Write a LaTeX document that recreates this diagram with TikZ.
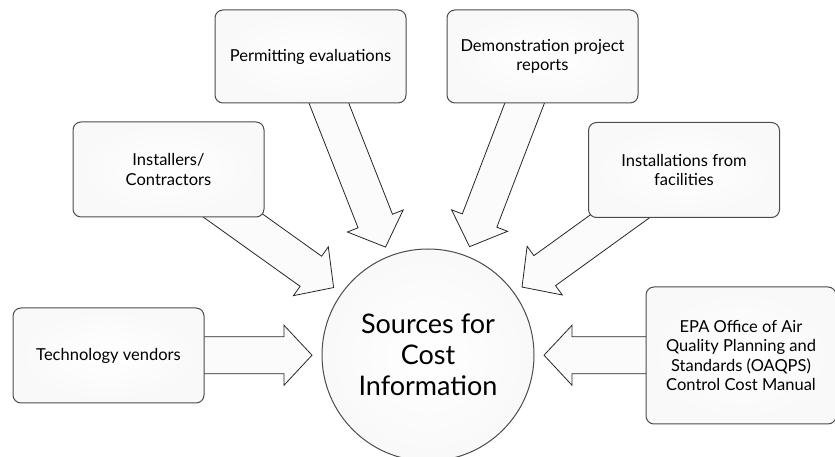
\documentclass[tikz,border=0pt]{standalone}
\usepackage{fontspec}
\setmainfont{Lato}
\usetikzlibrary{calc,positioning,backgrounds}
\newcommand{\feed}[2]{%
  \coordinate (tip) at ($(#2.center)!116pt!(#1.center)$);
  \coordinate (neck) at ($(#2.center)!144pt!(#1.center)$);
  \filldraw[feed arrow] (tip)
    -- ($(neck)!30pt!90:(#1.center)$)
    -- ($(neck)!18.5pt!90:(#1.center)$)
    -- ($(#1.center)!18.5pt!-90:(#2.center)$)
    -- ($(#1.center)!18.5pt!90:(#2.center)$)
    -- ($(neck)!18.5pt!-90:(#1.center)$)
    -- ($(neck)!30pt!-90:(#1.center)$)
    -- cycle;}

\begin{document}
\begin{tikzpicture}[
    x=1pt,
    y=1pt,
    main node/.style={draw=gray!60!black,line width=1pt,rounded corners=8pt,inner color=white,outer color=gray!5,minimum width=191pt,minimum height=95pt,align=center,font=\fontsize{16.5}{19.5}\selectfont},
    hub node/.style={circle,draw=gray!60!black,line width=1pt,inner color=white,outer color=gray!5,minimum size=212pt,align=center,font=\fontsize{27}{31}\selectfont},
    feed arrow/.style={draw=black!85,line width=0.8pt,fill=gray!3,line join=miter}
    ]

    \useasboundingbox (0,0) rectangle (835,457);

    \node[hub node] (0) at (428,102) {Sources for\\Cost\\Information};
    \node[main node] (1) at (108.5,101.5) {Technology vendors};
    \node[main node] (2) at (168.5,287.5) {Installers/\\Contractors};
    \node[main node,minimum height=93pt] (3) at (310.5,400.5) {Permitting evaluations};
    \node[main node,minimum height=93pt] (4) [right=40pt of 3] {Demonstration project\\reports};
    \node[main node] (5) at (684,287) {Installations from\\facilities};
    \node[main node,minimum width=190pt,minimum height=137pt] (6) at (741,101.5) {EPA Office of Air\\Quality Planning and\\Standards (OAQPS)\\Control Cost Manual};

    \begin{pgfonlayer}{background}
      \foreach \n in {1,...,6} {\feed{\n}{0}}
    \end{pgfonlayer}
  \end{tikzpicture}
\end{document}
